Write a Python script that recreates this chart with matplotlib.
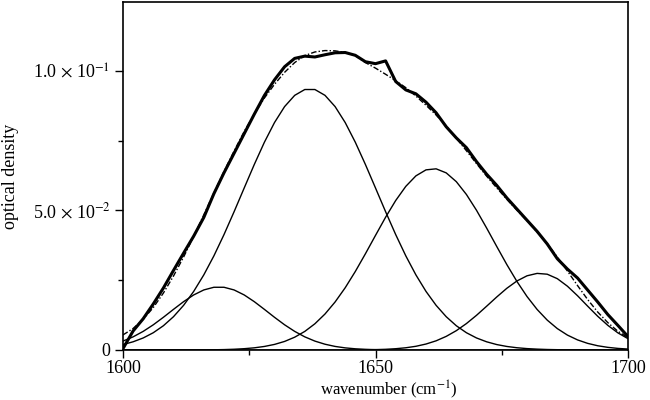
import numpy as np
import matplotlib
matplotlib.use("Agg")
import matplotlib.pyplot as plt
from matplotlib.ticker import FixedLocator, FixedFormatter

plt.rcParams['font.family'] = ['Liberation Serif', 'DejaVu Serif']
plt.rcParams['mathtext.fontset'] = 'stix'

# wavenumber grid (cm-1)
wavenumber = np.arange(1600, 1701, 2)

# measured spectrum (thick line)
measured = [0.0005, 0.0068, 0.0112, 0.0165, 0.0222, 0.0285, 0.0347, 0.0408, 0.0475, 0.0560,
            0.0635, 0.0705, 0.0775, 0.0845, 0.0912, 0.0968, 0.1015, 0.1045, 0.1053, 0.1050,
            0.1058, 0.1065, 0.1066, 0.1056, 0.1033, 0.1026, 0.1036, 0.0962, 0.0932, 0.0918,
            0.0888, 0.0850, 0.0800, 0.0760, 0.0725, 0.0675, 0.0630, 0.0590, 0.0545, 0.0505,
            0.0465, 0.0425, 0.0380, 0.0327, 0.0290, 0.0258, 0.0215, 0.0172, 0.0127, 0.0088,
            0.0048]

# total fit (dash-dot line)
fit_total = [0.0054, 0.0077, 0.0110, 0.0152, 0.0204, 0.0265, 0.0333, 0.0407, 0.0484, 0.0563,
             0.0640, 0.0713, 0.0783, 0.0846, 0.0903, 0.0952, 0.0995, 0.1030, 0.1055, 0.1068,
             0.1073, 0.1072, 0.1066, 0.1055, 0.1030, 0.1010, 0.0988, 0.0965, 0.0940, 0.0910,
             0.0877, 0.0842, 0.0803, 0.0759, 0.0714, 0.0668, 0.0623, 0.0581, 0.0540, 0.0501,
             0.0463, 0.0423, 0.0381, 0.0333, 0.0283, 0.0231, 0.0181, 0.0136, 0.0098, 0.0067,
             0.0044]

# fitted components
band_1619 = [0.00319, 0.00471, 0.00667, 0.00903, 0.01172, 0.01456, 0.01732, 0.01973, 0.02152, 0.02248,
             0.02248, 0.02152, 0.01973, 0.01732, 0.01456, 0.01172, 0.00903, 0.00667, 0.00471, 0.00319,
             0.00207, 0.00128, 0.00076, 0.00043, 0.00024, 0.00012, 0.00006, 0.00003, 0.0, 0.0,
             0.0, 0.0, 0.0, 0.0, 0.0, 0.0, 0.0, 0.0, 0.0, 0.0,
             0.0, 0.0, 0.0, 0.0, 0.0, 0.0, 0.0, 0.0, 0.0, 0.0,
             0.0]
band_1637 = [0.00195, 0.00294, 0.00431, 0.00619, 0.00869, 0.01193, 0.01600, 0.02099, 0.02691, 0.03373,
             0.04135, 0.04955, 0.05805, 0.06648, 0.07445, 0.08150, 0.08722, 0.09125, 0.09334, 0.09334,
             0.09125, 0.08722, 0.08150, 0.07445, 0.06648, 0.05805, 0.04955, 0.04135, 0.03373, 0.02691,
             0.02099, 0.01600, 0.01193, 0.00869, 0.00619, 0.00431, 0.00294, 0.00195, 0.00127, 0.00081,
             0.00050, 0.00031, 0.00018, 0.00011, 0.00006, 0.00003, 0.00002, 0.00001, 0.0, 0.0,
             0.0]
band_1661 = [0.0, 0.0, 0.0, 0.0, 0.0, 0.0, 0.0, 0.0, 0.0, 0.00008,
             0.00015, 0.00027, 0.00047, 0.00078, 0.00127, 0.00200, 0.00307, 0.00459, 0.00666, 0.00940,
             0.01290, 0.01721, 0.02231, 0.02813, 0.03448, 0.04107, 0.04758, 0.05357, 0.05864, 0.06240,
             0.06455, 0.06492, 0.06347, 0.06032, 0.05573, 0.05006, 0.04371, 0.03711, 0.03062, 0.02457,
             0.01916, 0.01453, 0.01071, 0.00767, 0.00534, 0.00362, 0.00238, 0.00152, 0.00095, 0.00057,
             0.00034]
band_1683 = [0.0, 0.0, 0.0, 0.0, 0.0, 0.0, 0.0, 0.0, 0.0, 0.0,
             0.0, 0.0, 0.0, 0.0, 0.0, 0.0, 0.0, 0.0, 0.0, 0.0,
             0.0, 0.0, 0.00001, 0.00003, 0.00007, 0.00014, 0.00025, 0.00046, 0.00080, 0.00133,
             0.00214, 0.00329, 0.00488, 0.00693, 0.00947, 0.01243, 0.01568, 0.01899, 0.02211, 0.02473,
             0.02659, 0.02745, 0.02716, 0.02556, 0.02286, 0.01945, 0.01572, 0.01208, 0.00883, 0.00613,
             0.00405]

y_ticks = [0.0, 0.05, 0.1]
y_tick_labels = ['0', r'5.0 $\times$ 10$^{-2}$', r'1.0 $\times$ 10$^{-1}$']
x_ticks = [1600, 1650, 1700]

fig = plt.figure(figsize=(6.5, 4), dpi=100)
ax = fig.add_axes([0.1892, 0.125, 0.7770, 0.870])

for band in [band_1619, band_1637, band_1661, band_1683]:
    ax.plot(wavenumber, band, color='black', linewidth=1.0)
ax.plot(wavenumber, fit_total, color='black', linewidth=1.0, linestyle=(0, (4, 1.5, 1, 1.5)))
ax.plot(wavenumber, measured, color='black', linewidth=2.2, solid_joinstyle='round')

ax.set_xlim(1600, 1700)
ax.set_ylim(0, 0.1247)

ax.set_xticks(x_ticks)
ax.set_xticks([1625, 1675], minor=True)
ax.yaxis.set_major_locator(FixedLocator(y_ticks))
ax.yaxis.set_major_formatter(FixedFormatter(y_tick_labels))
ax.set_yticks([0.025, 0.075], minor=True)

ax.tick_params(which='major', direction='out', length=6, width=1, labelsize=13, pad=3)
ax.tick_params(axis='x', which='major', pad=1.5)
ax.tick_params(which='minor', direction='out', length=3.5, width=1)
for s in ax.spines.values():
    s.set_linewidth(1.2)

ax.set_xlabel(r'wavenumber (cm$^{-1}$)', fontsize=12)
ax.xaxis.set_label_coords(0.527, -0.083)
ax.set_ylabel('optical density', fontsize=13, labelpad=10)

fig.savefig('out.png', dpi=100)
